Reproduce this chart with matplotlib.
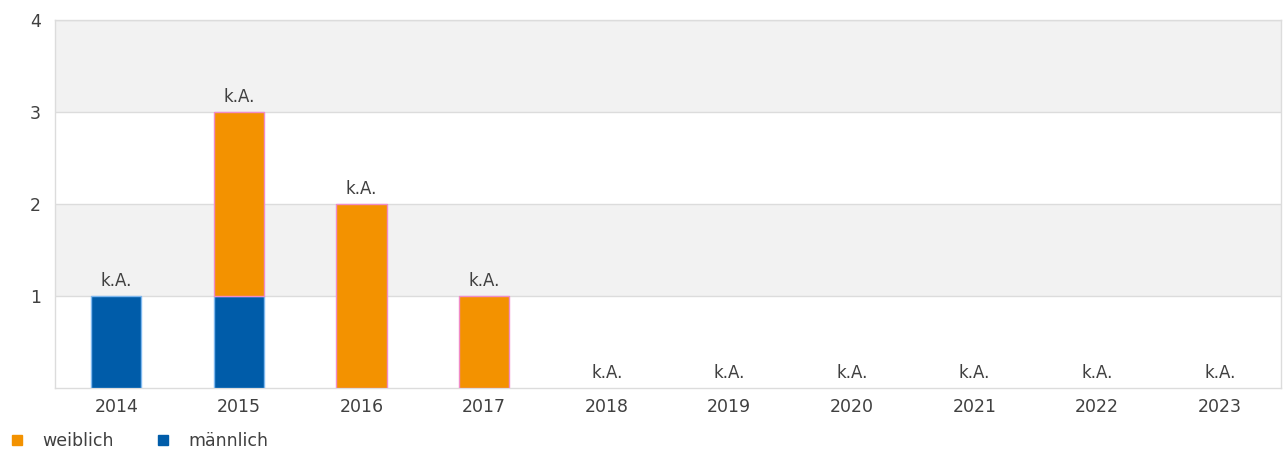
import numpy as np
import matplotlib
matplotlib.use("Agg")
import matplotlib.pyplot as plt
from matplotlib.lines import Line2D

years = ["2014", "2015", "2016", "2017", "2018", "2019", "2020", "2021", "2022", "2023"]
weiblich = [0, 2, 2, 1, 0, 0, 0, 0, 0, 0]
maennlich = [1, 1, 0, 0, 0, 0, 0, 0, 0, 0]
bar_labels = ["k.A."] * len(years)

ORANGE = "#f39200"
BLUE = "#005ca9"
TEXT = "#404040"
GRID = "#dcdcdc"

fig = plt.figure(figsize=(12.83, 4.5), dpi=100)
ax = fig.add_axes([55 / 1283, 62 / 450, 1226 / 1283, 368 / 450])

x = np.arange(len(years))
m = np.array(maennlich)
w = np.array(weiblich)

# alternating background bands
for lo in range(4):
    ax.axhspan(lo, lo + 1, color="#f2f2f2" if lo % 2 else "white", zorder=0, lw=0)
for y in range(1, 5):
    ax.axhline(y, color=GRID, lw=1, zorder=1)

# only draw segments that actually have a height, so empty ones leave no outline
width = 0.41
km = m > 0
kw = w > 0
ax.bar(x[km], m[km], width, color=BLUE, edgecolor="#7fb8ef", linewidth=1, zorder=3)
ax.bar(x[kw], w[kw], width, bottom=m[kw], color=ORANGE, edgecolor="#f08cc8",
       linewidth=1, zorder=3)

totals = m + w
for xi, t, lab in zip(x, totals, bar_labels):
    ax.text(xi, t + 0.06, lab, ha="center", va="bottom", fontsize=12, color=TEXT, zorder=4)

ax.set_xlim(-0.5, len(years) - 0.5)
ax.set_ylim(0, 4)
ax.set_xticks(x)
ax.set_xticklabels(years)
ax.set_yticks([1, 2, 3, 4])
ax.tick_params(axis="both", length=0, labelsize=12.5, colors=TEXT)
ax.tick_params(axis="y", pad=10)
ax.tick_params(axis="x", pad=7)
for s in ax.spines.values():
    s.set_color(GRID)
    s.set_linewidth(1)

handles = [
    Line2D([], [], marker="s", ls="", color=ORANGE, markersize=7),
    Line2D([], [], marker="s", ls="", color=BLUE, markersize=7),
]
fig.legend(handles, ["weiblich", "männlich"], loc="lower left",
           bbox_to_anchor=(-0.006, -0.035), ncol=2, frameon=False,
           fontsize=12.5, labelcolor=TEXT, handletextpad=1.0,
           columnspacing=2.3, handlelength=1.0)

fig.savefig("out.png", dpi=100)
